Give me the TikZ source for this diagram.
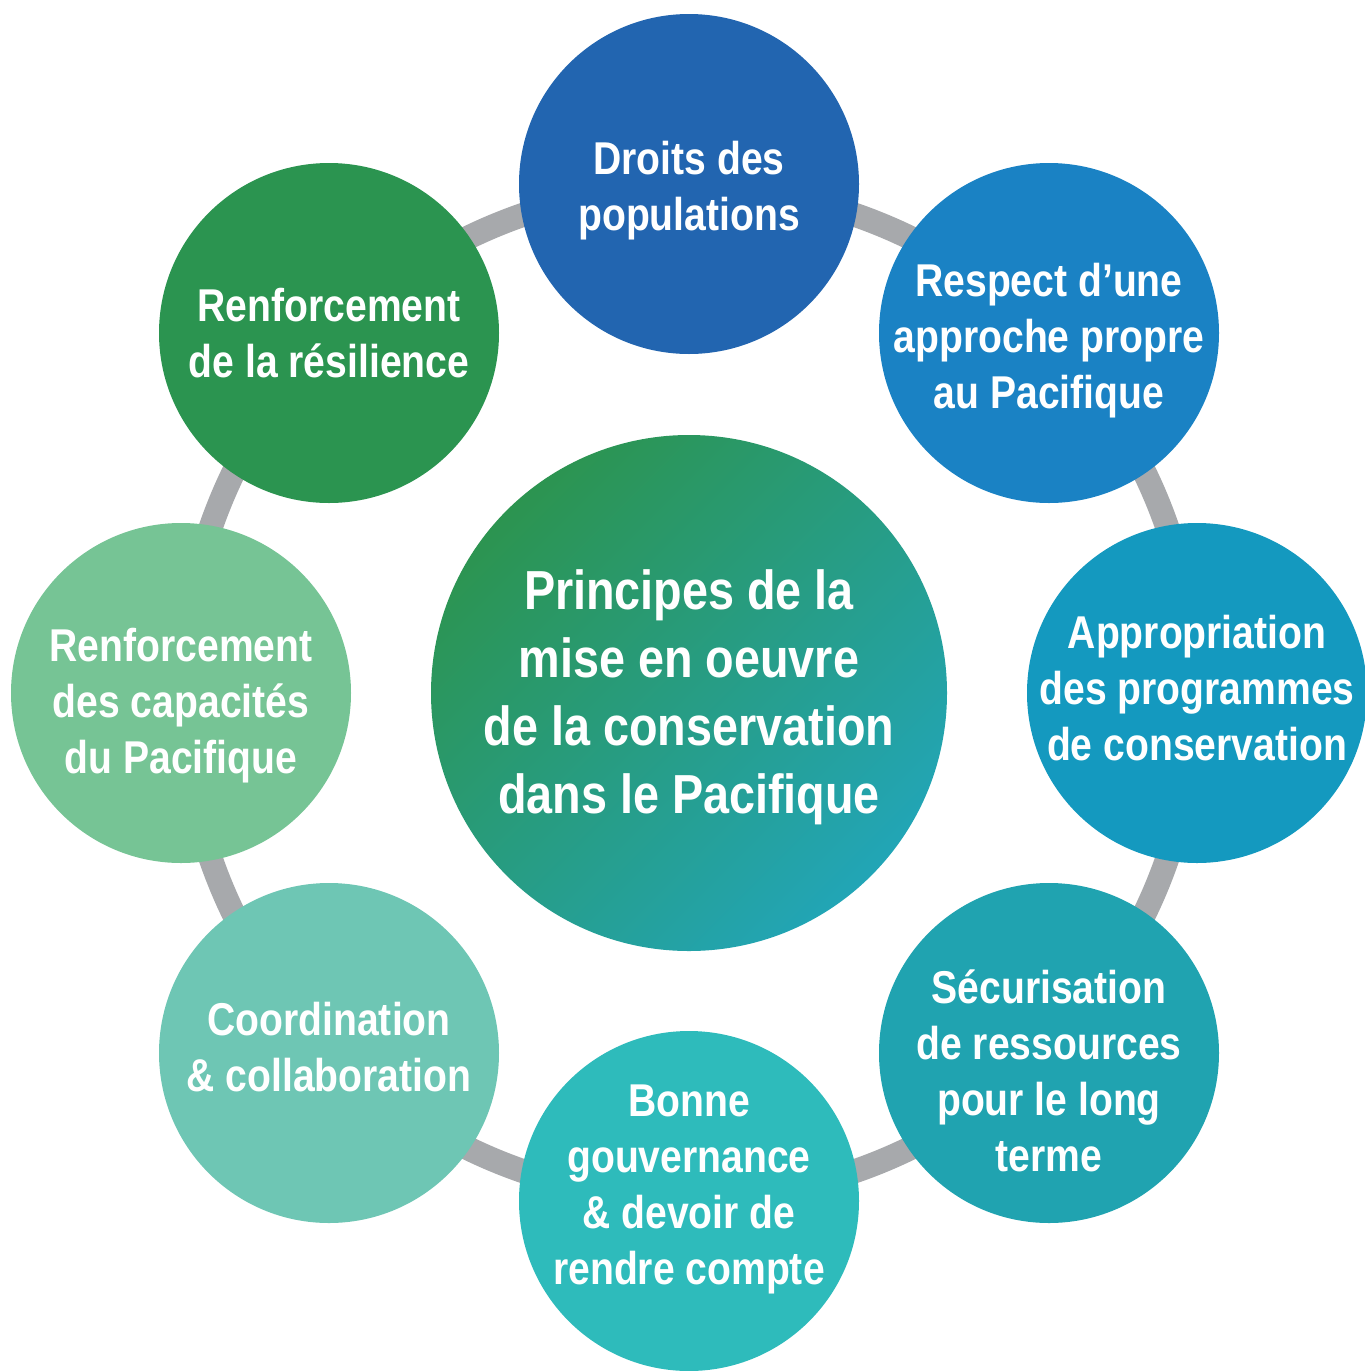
\documentclass[tikz,border=0pt]{standalone}
\usepackage{fontspec}
\setmainfont{Liberation Sans}[FakeStretch=0.85]
\usepackage{xcolor}
\definecolor{ringColor}{HTML}{A7A9AC}
\definecolor{droitsColor}{HTML}{2265B0}
\definecolor{respectColor}{HTML}{1A82C4}
\definecolor{approColor}{HTML}{1499BF}
\definecolor{securColor}{HTML}{20A3B0}
\definecolor{bonneColor}{HTML}{2EBBBB}
\definecolor{coordColor}{HTML}{6EC6B4}
\definecolor{capaColor}{HTML}{76C495}
\definecolor{resilColor}{HTML}{2B9450}
\definecolor{centreTop}{HTML}{2C9450}
\definecolor{centreBot}{HTML}{22A5B6}

\begin{document}
\begin{tikzpicture}[x=0.5pt,y=0.5pt,yscale=-1,
	principe/.style={circle, minimum size=170pt, inner sep=0pt},
	principeText/.style={align=center, inner sep=0pt, text=white, font=\bfseries\fontsize{23}{28}\selectfont},
	centre/.style={circle, minimum size=258pt, inner sep=0pt, top color=centreTop, bottom color=centreBot, shading angle=45},
	centreText/.style={align=center, inner sep=0pt, text=white, font=\bfseries\fontsize{27.5}{34}\selectfont}]
		\useasboundingbox (0,0) rectangle (1365,1371);

		% Centre
		\node [centre] (centre) at (689,693) {};
		\node [centreText] (centreT) at (689,697) {Principes de la\\mise en oeuvre\\de la conservation\\dans le Pacifique};

		% Ring
		\draw [ringColor, line width=12pt] (centre.center) circle [radius=506];

		% Circles
		\node [principe, fill=droitsColor]  (droits)  at (689,184)  {};
		\node [principe, fill=respectColor] (respect) at (1049,333) {};
		\node [principe, fill=approColor]   (appro)   at (1197,693) {};
		\node [principe, fill=securColor]   (secur)   at (1049,1053) {};
		\node [principe, fill=bonneColor]   (bonne)   at (689,1201) {};
		\node [principe, fill=coordColor]   (coord)   at (329,1053) {};
		\node [principe, fill=capaColor]    (capa)    at (181,693)  {};
		\node [principe, fill=resilColor]   (resil)   at (329,333)  {};

		% Text Node
		\node [principeText] (droitsT)  at (689,191)  {Droits des\\populations};
		\node [principeText] (respectT) at (1049,341) {Respect d’une\\approche propre\\au Pacifique};
		\node [principeText] (approT)   at (1197,688) {Appropriation\\des programmes\\de conservation};
		\node [principeText] (securT)   at (1049,1071) {Sécurisation\\de ressources\\pour le long\\terme};
		\node [principeText] (bonneT)   at (689,1189) {Bonne\\gouvernance\\\& devoir de\\rendre compte};
		\node [principeText] (coordT)   at (329,1047) {Coordination\\\& collaboration};
		\node [principeText] (capaT)    at (181,706)  {Renforcement\\des capacités\\du Pacifique};
		\node [principeText] (resilT)   at (329,333)  {Renforcement\\de la résilience};
	\end{tikzpicture}
\end{document}
